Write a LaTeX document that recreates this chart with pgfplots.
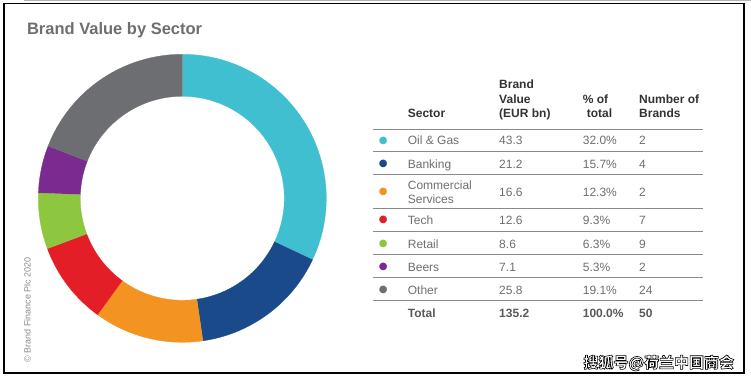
\documentclass[border=0pt]{standalone}
\usepackage{pgfplots}
\pgfplotsset{compat=1.18}
\usepgfplotslibrary{polar}
\usepackage{fontspec}
\setmainfont{Liberation Sans}
\newfontfamily\cjk{Noto Sans CJK SC}
\newfontfamily\dejavu{DejaVu Sans}
\definecolor{cOil}{HTML}{40BFD1}
\definecolor{cBank}{HTML}{1B4A8A}
\definecolor{cComm}{HTML}{F39322}
\definecolor{cTech}{HTML}{E31E26}
\definecolor{cRetail}{HTML}{8DC63F}
\definecolor{cBeers}{HTML}{7B2A8F}
\definecolor{cOther}{HTML}{6D6E71}
\definecolor{txt}{HTML}{6D6E71}
\definecolor{hdr}{HTML}{333333}
\definecolor{tot}{HTML}{58595B}
\definecolor{rule}{HTML}{8A8A8A}
% outer radius 144, inner radius 102 (in pt)
\newcommand\buildring[3]{%
  \pgfmathsetmacro\rspan{#2-#3}%
  \pgfmathtruncatemacro\rn{ceil(\rspan)+1}%
  \expandafter\gdef\csname ring#1\endcsname{}%
  \foreach \i in {0,...,\rn}{%
    \pgfmathsetmacro\ra{#2-\rspan*\i/\rn}%
    \expandafter\xdef\csname ring#1\endcsname{\csname ring#1\endcsname (\ra,144)}%
  }%
  \foreach \i in {0,...,\rn}{%
    \pgfmathsetmacro\ra{#3+\rspan*\i/\rn}%
    \expandafter\xdef\csname ring#1\endcsname{\csname ring#1\endcsname (\ra,102)}%
  }%
}
\newcommand\ringplot[2]{%
  \edef\tmp{\noexpand\addplot[fill=#2, draw=#2, line width=0.3pt] coordinates {\csname ring#1\endcsname};}\tmp}
\newcommand\rowtext[5]{% y-baseline, sector, value, pct, number
  \node[anchor=base west] at (404.3,#1) {#2};
  \node[anchor=base west] at (495.7,#1) {#3};
  \node[anchor=base west] at (579.3,#1) {#4};
  \node[anchor=base west] at (635.7,#1) {#5};
}
\begin{document}
\begin{tikzpicture}
\path[use as bounding box] (0,0) rectangle (751pt,379pt);
% share of total (%), clockwise from 12 o'clock
\xdef\cum{0}
\foreach \p [count=\j] in {32.0,15.7,12.3,9.3,6.3,5.3,19.1}{%
  \pgfmathsetmacro\sa{90-3.6*\cum}%
  \pgfmathsetmacro\newcum{\cum+\p}%
  \xdef\cum{\newcum}%
  \pgfmathsetmacro\sb{90-3.6*\cum}%
  \buildring{\j}{\sa}{\sb}%
}
\begin{polaraxis}[at={(182.3pt,180.7pt)}, anchor=center, scale only axis,
  width=288pt, height=288pt, xmin=0, xmax=360, ymin=0, ymax=144,
  hide axis, clip=false]
\ringplot{1}{cOil}
\ringplot{2}{cBank}
\ringplot{3}{cComm}
\ringplot{4}{cTech}
\ringplot{5}{cRetail}
\ringplot{6}{cBeers}
\ringplot{7}{cOther}
\end{polaraxis}
\begin{scope}[x=1pt, y=-1pt, yshift=379pt]
% frame
\draw[black, line width=1.2pt] (4,3.5) rectangle (744,373);
\draw[gray!60, line width=1.5pt] (24,0.5) -- (751,0.5);
% title
\node[anchor=base west, text=txt, font=\fontsize{16.5}{18}\selectfont\bfseries] at (23.5,35) {Brand Value by Sector};
% copyright
\node[rotate=90, text=rule, font=\fontsize{9}{10}\selectfont] at (27.3,310) {\textcopyright\ Brand Finance Plc 2020};
% header
\begin{scope}[font=\fontsize{12}{14}\selectfont\bfseries, text=hdr]
\node[anchor=base west] at (404.3,118) {Sector};
\node[anchor=base west] at (495.7,88.3) {Brand};
\node[anchor=base west] at (495.7,103.3) {Value};
\node[anchor=base west] at (495.7,118) {(EUR bn)};
\node[anchor=base west] at (579.3,103.3) {\% of};
\node[anchor=base west] at (583.3,118) {total};
\node[anchor=base west] at (635.7,103.3) {Number of};
\node[anchor=base west] at (635.7,118) {Brands};
\end{scope}
% rules
\foreach \yy in {129.3,151.7,174.5,208.3,231.7,254.3,277.3,300.3}{
  \draw[rule, line width=0.9pt] (373,\yy) -- (703,\yy);
}
% rows
\begin{scope}[font=\fontsize{12}{14}\selectfont, text=txt]
\rowtext{145}{Oil \& Gas}{43.3}{32.0\%}{2}
\rowtext{168.3}{Banking}{21.2}{15.7\%}{4}
\node[anchor=base west] at (404.3,190) {Commercial};
\node[anchor=base west] at (404.3,203.3) {Services};
\node[anchor=base west] at (495.7,196.6) {16.6};
\node[anchor=base west] at (579.3,196.6) {12.3\%};
\node[anchor=base west] at (635.7,196.6) {2};
\rowtext{224.3}{Tech}{12.6}{9.3\%}{7}
\rowtext{248.3}{Retail}{8.6}{6.3\%}{9}
\rowtext{271.6}{Beers}{7.1}{5.3\%}{2}
\rowtext{294.3}{Other}{25.8}{19.1\%}{24}
\end{scope}
\begin{scope}[font=\fontsize{12}{14}\selectfont\bfseries, text=tot]
\rowtext{317.6}{Total}{135.2}{100.0\%}{50}
\end{scope}
% bullets
\begin{scope}[font=\dejavu\fontsize{10}{10}\selectfont, inner sep=0pt]
\node[text=cOil] at (383.3,140.7) {●};
\node[text=cBank] at (383.3,164) {●};
\node[text=cComm] at (383.3,192.3) {●};
\node[text=cTech] at (383.3,220) {●};
\node[text=cRetail] at (383.3,244) {●};
\node[text=cBeers] at (383.3,267.3) {●};
\node[text=cOther] at (383.3,290) {●};
\end{scope}
% watermark: white letters with a black outline
\node[text=white, font=\cjk\bfseries\fontsize{15}{15}\selectfont] at (658.8,363)
  {\special{pdf:literal direct 2 Tr 0.6 w 0 0 0 RG 1 1 1 rg}搜狐号@荷兰中国商会\special{pdf:literal direct 0 Tr}};
\end{scope}
\end{tikzpicture}
\end{document}
